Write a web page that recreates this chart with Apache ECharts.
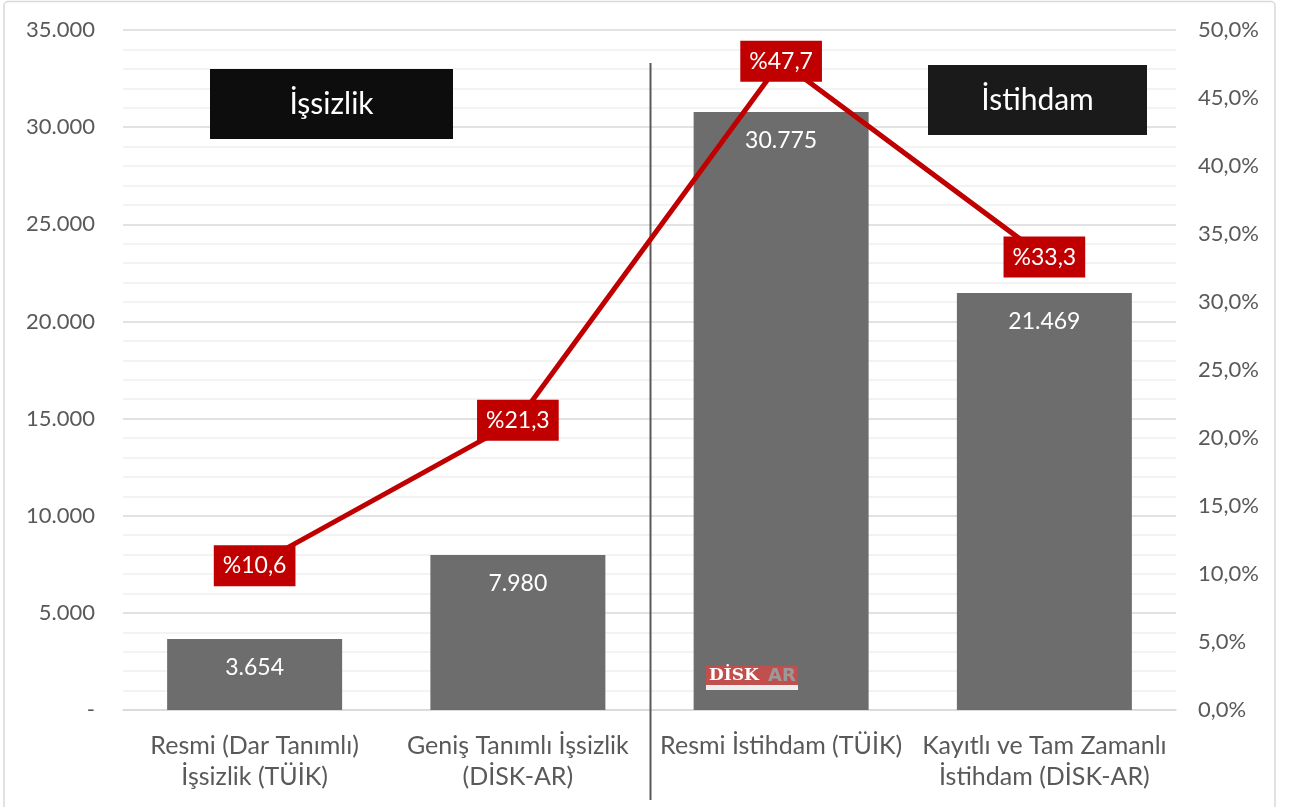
<!DOCTYPE html>
<html>
<head>
<meta charset="utf-8">
<script src="https://cdn.jsdelivr.net/npm/echarts@6/dist/echarts.min.js"></script>
<style>
  html, body { margin: 0; padding: 0; background: #fff; }
  #main { width: 1291px; height: 807px; }
</style>
</head>
<body>
<div id="main"></div>
<script>
// veriler
const categories = [
  'Resmi (Dar Tanımlı)\nİşsizlik (TÜİK)',
  'Geniş Tanımlı İşsizlik\n(DİSK-AR)',
  'Resmi İstihdam (TÜİK)',
  'Kayıtlı ve Tam Zamanlı\nİstihdam (DİSK-AR)'
];
const barValues = [3654, 7980, 30775, 21469];   // bin kişi
const rateValues = [10.6, 21.3, 47.7, 33.3];     // yüzde

const FONT = 'Lato, "Open Sans", sans-serif';
const GREY_TXT = '#595959';

const fmtThousands = v => String(v).replace(/\B(?=(\d{3})+(?!\d))/g, '.');

const chart = echarts.init(document.getElementById('main'));

const option = {
  animation: false,
  textStyle: { fontFamily: FONT },
  grid: { left: 123, right: 115, top: 30, bottom: 97 },
  xAxis: {
    type: 'category',
    data: categories,
    axisTick: { show: false },
    axisLine: { lineStyle: { color: '#d9d9d9', width: 1.5 } },
    axisLabel: {
      color: GREY_TXT, fontSize: 25, lineHeight: 31, margin: 20,
      fontFamily: FONT, interval: 0
    }
  },
  yAxis: [
    {
      type: 'value', min: 0, max: 35000, interval: 5000,
      axisLine: { show: false }, axisTick: { show: false },
      axisLabel: {
        color: GREY_TXT, fontSize: 22, margin: 28, fontFamily: FONT,
        formatter: v => v === 0 ? '-' : fmtThousands(v)
      },
      splitLine: { lineStyle: { color: '#d9d9d9', width: 1.5 } },
      minorTick: { show: false, splitNumber: 5 },
      minorSplitLine: { show: true, lineStyle: { color: '#efefef', width: 1.5 } }
    },
    {
      type: 'value', min: 0, max: 50, interval: 5,
      axisLine: { show: false }, axisTick: { show: false },
      splitLine: { show: false },
      axisLabel: {
        color: GREY_TXT, fontSize: 22, margin: 22, fontFamily: FONT,
        formatter: v => v.toFixed(1).replace('.', ',') + '%'
      }
    }
  ],
  series: [
    {
      name: 'Kişi',
      type: 'bar',
      data: barValues,
      barWidth: 175,
      itemStyle: { color: '#6d6d6d' },
      label: {
        show: true, position: 'insideTop', distance: 17,
        color: '#fff', fontSize: 23, fontFamily: FONT,
        formatter: p => fmtThousands(p.value)
      },
      z: 2
    },
    {
      name: 'Oran',
      type: 'line',
      yAxisIndex: 1,
      data: rateValues,
      symbol: 'rect', symbolSize: 1,
      lineStyle: { color: '#c00000', width: 5 },
      itemStyle: { color: '#c00000' },
      label: {
        show: true, position: 'inside',
        color: '#fff', fontSize: 23, fontFamily: FONT,
        backgroundColor: '#c00000', padding: [10, 9, 8, 9],
        formatter: p => '%' + p.value.toFixed(1).replace('.', ',')
      },
      z: 5
    }
  ]
};

chart.setOption(option);

// ayırıcı çizgi: 2. ve 3. kategori arasının ortası
const x1 = chart.convertToPixel({ xAxisIndex: 0 }, 1);
const x2 = chart.convertToPixel({ xAxisIndex: 0 }, 2);
const sepX = Math.round((x1 + x2) / 2) + 0.5;

chart.setOption({
  graphic: [
    {
      type: 'rect', silent: true, z: 0,
      shape: { x: 4, y: 1.5, width: 1271, height: 812, r: 4 },
      style: { fill: 'none', stroke: '#d9d9d9', lineWidth: 1.5 }
    },
    {
      type: 'line', silent: true, z: 1,
      shape: { x1: sepX, y1: 63, x2: sepX, y2: 800 },
      style: { stroke: '#595959', lineWidth: 2 }
    },
    { type: 'rect', z: 20, shape: { x: 210, y: 69, width: 243, height: 70 }, style: { fill: '#0d0d0d' } },
    { type: 'text', z: 21, x: 331.5, y: 104,
      style: { text: 'İşsizlik', fill: '#fff', font: '30px ' + FONT, align: 'center', verticalAlign: 'middle' } },
    { type: 'rect', z: 20, shape: { x: 928, y: 65, width: 219, height: 70 }, style: { fill: '#1a1a1a' } },
    { type: 'text', z: 21, x: 1037.5, y: 100,
      style: { text: 'İstihdam', fill: '#fff', font: '30px ' + FONT, align: 'center', verticalAlign: 'middle' } },
    // DİSK-AR logosu
    { type: 'rect', z: 20, shape: { x: 706, y: 666, width: 92, height: 24 }, style: { fill: '#c0504d' } },
    { type: 'rect', z: 21, shape: { x: 706, y: 685, width: 92, height: 5 }, style: { fill: '#eeeeee' } },
    { type: 'text', z: 22, x: 709, y: 676,
      style: { text: 'DİSK', fill: '#fff', font: 'bold 17px "DejaVu Serif", serif', verticalAlign: 'middle' } },
    { type: 'text', z: 22, x: 768, y: 676,
      style: { text: 'AR', fill: '#9a9a9a', font: 'bold 18px "DejaVu Sans", sans-serif', verticalAlign: 'middle' } }
  ]
});
</script>
</body>
</html>
